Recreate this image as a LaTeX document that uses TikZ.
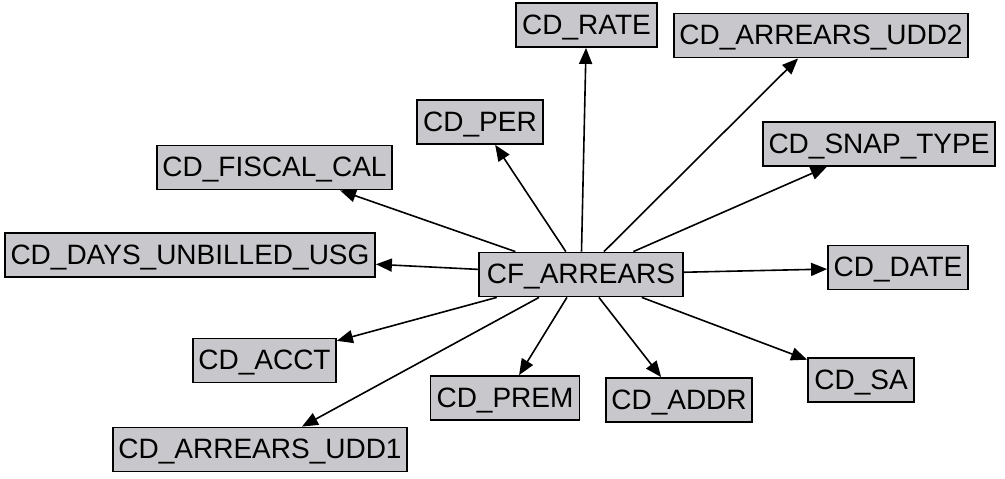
\documentclass[tikz,border=0pt]{standalone}
\usepackage{fontspec}
\setmainfont{Liberation Sans}
\usetikzlibrary{arrows.meta}
\definecolor{tblgray}{RGB}{200,200,204}
\begin{document}
\begin{tikzpicture}[x=0.5pt, y=-0.5pt,
  tbl/.style={draw, line width=0.9pt, fill=tblgray, inner sep=0pt,
    minimum height=22pt, text height=10pt, text depth=1pt,
    font=\fontsize{14}{16}\selectfont},
  link/.style={line width=0.8pt, -{Triangle[length=8pt,width=6.5pt]}}]
  \useasboundingbox (0,0) rectangle (1005,478);
  \node[tbl, minimum width=102pt] (arrears) at (581,274.5) {CF\_ARREARS};
  \node[tbl, minimum width=70.5pt] (rate) at (586.5,25) {CD\_RATE};
  \node[tbl, minimum width=147pt] (udd2) at (821,35.5) {CD\_ARREARS\_UDD2};
  \node[tbl, minimum width=63pt] (per) at (480,122) {CD\_PER};
  \node[tbl, minimum width=116pt] (snap) at (879,144) {CD\_SNAP\_TYPE};
  \node[tbl, minimum width=117.5pt] (fiscal) at (274.5,167.5) {CD\_FISCAL\_CAL};
  \node[tbl, minimum width=185pt] (unbilled) at (190,255) {CD\_DAYS\_UNBILLED\_USG};
  \node[tbl, minimum width=70pt] (date) at (898,267.5) {CD\_DATE};
  \node[tbl, minimum width=71.5pt] (acct) at (264.5,360.5) {CD\_ACCT};
  \node[tbl, minimum width=53pt] (sa) at (861,380) {CD\_SA};
  \node[tbl, minimum width=74.5pt] (prem) at (505,398) {CD\_PREM};
  \node[tbl, minimum width=73pt] (addr) at (679,400) {CD\_ADDR};
  \node[tbl, minimum width=147pt] (udd1) at (260,449.5) {CD\_ARREARS\_UDD1};
  \foreach \dim in {rate,udd2,per,snap,fiscal,unbilled,date,acct,sa,prem,addr,udd1}
    \draw[link] (arrears) -- (\dim);
\end{tikzpicture}
\end{document}
